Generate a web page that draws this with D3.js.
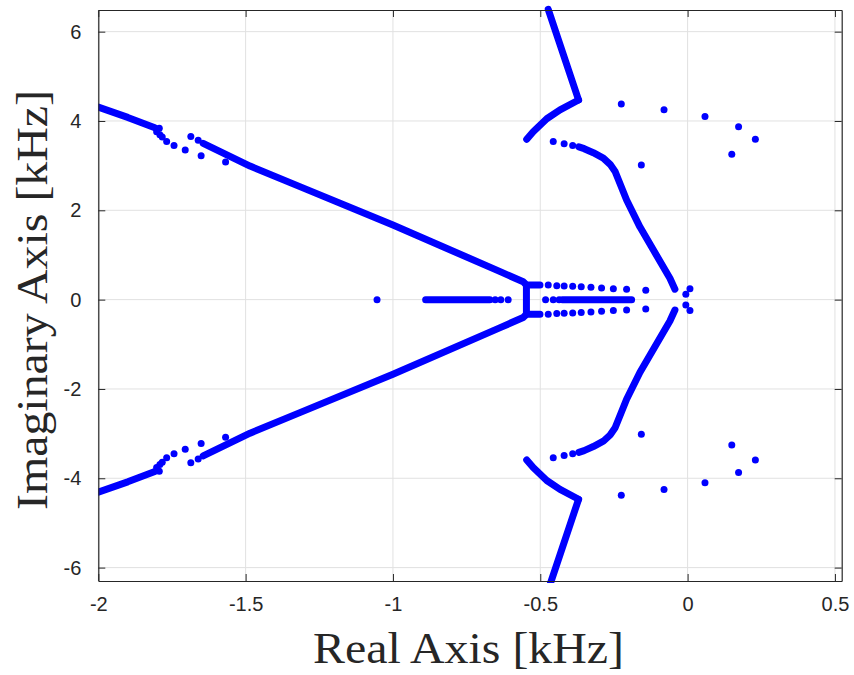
<!DOCTYPE html>
<html>
<head>
<meta charset="utf-8">
<script src="https://cdn.jsdelivr.net/npm/d3@7"></script>
<style>
  html, body { margin: 0; padding: 0; background: #ffffff; }
  svg { display: block; }
</style>
</head>
<body>
<svg id="chart" width="854" height="675"></svg>
<script>
// Axis ticks and labels
const xTicks = [-2, -1.5, -1, -0.5, 0, 0.5];
const xTickLabels = ["-2", "-1.5", "-1", "-0.5", "0", "0.5"];
const yTicks = [-6, -4, -2, 0, 2, 4, 6];
const yTickLabels = ["-6", "-4", "-2", "0", "2", "4", "6"];
const xLimits = [-2, 0.523];
const yLimits = [-6.30, 6.485];

// Closed-loop pole traces [real, imag] in kHz (upper half-plane; the lower half is the conjugate)
const branchFarLeftA = [[-2.0, 4.31], [-1.9, 4.08], [-1.808, 3.85]];
const branchFarLeftB = [[-1.644, 3.50], [-1.485, 2.99], [-1.316, 2.53], [-1.0, 1.67], [-0.636, 0.627],
                        [-0.558, 0.40], [-0.547, 0.33], [-0.501, 0.33]];
const branchTop = [[-0.473, 6.50], [-0.37, 4.47]];
const branchKink = [[-0.37, 4.47], [-0.433, 4.25], [-0.478, 4.05], [-0.524, 3.76], [-0.546, 3.59]];
const branchInner = [[-0.369, 3.42], [-0.351, 3.38], [-0.320, 3.29], [-0.286, 3.17], [-0.263, 3.03],
                     [-0.246, 2.87], [-0.207, 2.23], [-0.162, 1.63], [-0.116, 1.11], [-0.060, 0.48],
                     [-0.043, 0.233]];

// Traces lying on the real axis (no conjugate)
const realBar = [[-0.547, 0.32], [-0.547, -0.32]];
const realLeft = [[-0.889, 0], [-0.671, 0]];
const realRight = [[-0.425, 0], [-0.19, 0]];

// Isolated poles, upper half-plane
const polesUpper = [
  [-1.793, 3.84], [-1.802, 3.76], [-1.791, 3.69], [-1.783, 3.64], [-1.768, 3.54], [-1.743, 3.45],
  [-1.705, 3.35], [-1.686, 3.65], [-1.661, 3.57], [-1.651, 3.22], [-1.568, 3.08],
  [-0.456, 3.54], [-0.419, 3.49], [-0.390, 3.45],
  [-0.225, 4.38], [-0.080, 4.25], [0.059, 4.10], [0.173, 3.87], [0.230, 3.59], [0.150, 3.255],
  [-0.157, 3.015],
  [-0.473, 0.33], [-0.444, 0.313], [-0.419, 0.307], [-0.390, 0.30], [-0.361, 0.29], [-0.328, 0.277],
  [-0.292, 0.262], [-0.252, 0.246], [-0.207, 0.233], [-0.142, 0.21],
  [-0.006, 0.12], [0.008, 0.245]
];
// Isolated poles on the real axis
const polesReal = [[-1.054, 0], [-0.653, 0], [-0.634, 0], [-0.609, 0], [-0.482, 0], [-0.456, 0], [-0.436, 0]];

const conj = pts => pts.map(([re, im]) => [re, -im]);

const margin = { left: 98.3, right: 854 - 841.7, top: 10, bottom: 675 - 581 };
const W = 854, H = 675;
const svg = d3.select("#chart");

const x = d3.scaleLinear().domain(xLimits).range([margin.left, W - margin.right]);
const y = d3.scaleLinear().domain(yLimits).range([H - margin.bottom, margin.top]);

const axisColor = "#262626";
const markColor = "#0000ff";
const markR = 3.5;

// grid
const grid = svg.append("g");
grid.selectAll("line.gx").data(xTicks).join("line")
  .attr("x1", d => x(d)).attr("x2", d => x(d))
  .attr("y1", y.range()[0]).attr("y2", y.range()[1])
  .attr("stroke", "#e1e1e1").attr("stroke-width", 1);
grid.selectAll("line.gy").data(yTicks).join("line")
  .attr("y1", d => y(d)).attr("y2", d => y(d))
  .attr("x1", x.range()[0]).attr("x2", x.range()[1])
  .attr("stroke", "#e1e1e1").attr("stroke-width", 1);

// clip for traces that run past the limits
svg.append("defs").append("clipPath").attr("id", "plotClip")
  .append("rect")
  .attr("x", x.range()[0]).attr("y", y.range()[1] - 8)
  .attr("width", x.range()[1] - x.range()[0])
  .attr("height", y.range()[0] - y.range()[1] + 10);

const marks = svg.append("g").attr("clip-path", "url(#plotClip)");
const line = d3.line().x(d => x(d[0])).y(d => y(d[1]));

const upperTraces = [branchFarLeftA, branchFarLeftB, branchTop, branchKink, branchInner];
const allTraces = [...upperTraces, ...upperTraces.map(conj), realBar, realLeft, realRight];

marks.selectAll("path.trace").data(allTraces).join("path")
  .attr("class", "trace")
  .attr("d", line)
  .attr("fill", "none")
  .attr("stroke", markColor)
  .attr("stroke-width", markR * 2)
  .attr("stroke-linecap", "round")
  .attr("stroke-linejoin", "round");

const allPoles = [...polesUpper, ...conj(polesUpper), ...polesReal];
marks.selectAll("circle.pole").data(allPoles).join("circle")
  .attr("class", "pole")
  .attr("cx", d => x(d[0])).attr("cy", d => y(d[1]))
  .attr("r", markR)
  .attr("fill", markColor);

// axes box with inward ticks on all sides
const tickLen = 7;
const fmtX = (d, i) => xTickLabels[i];
const fmtY = (d, i) => yTickLabels[i];

const xAxisB = d3.axisBottom(x).tickValues(xTicks).tickFormat(fmtX).tickSizeInner(-tickLen).tickSizeOuter(0).tickPadding(16);
const xAxisT = d3.axisTop(x).tickValues(xTicks).tickFormat("").tickSizeInner(-tickLen).tickSizeOuter(0);
const yAxisL = d3.axisLeft(y).tickValues(yTicks).tickFormat(fmtY).tickSizeInner(-tickLen).tickSizeOuter(0).tickPadding(17);
const yAxisR = d3.axisRight(y).tickValues(yTicks).tickFormat("").tickSizeInner(-tickLen).tickSizeOuter(0);

function styleAxis(g) {
  g.select(".domain").attr("stroke", axisColor).attr("stroke-width", 1.2);
  g.selectAll(".tick line").attr("stroke", axisColor).attr("stroke-width", 1);
  g.selectAll(".tick text")
    .attr("fill", axisColor)
    .style("font-family", "'Liberation Sans', Arial, sans-serif")
    .style("font-size", "20px");
}

svg.append("g").attr("transform", `translate(0,${y.range()[0]})`).call(xAxisB).call(styleAxis);
svg.append("g").attr("transform", `translate(0,${y.range()[1]})`).call(xAxisT).call(styleAxis);
svg.append("g").attr("transform", `translate(${x.range()[0]},0)`).call(yAxisL).call(styleAxis);
svg.append("g").attr("transform", `translate(${x.range()[1]},0)`).call(yAxisR).call(styleAxis);

// axis titles
const titleFont = "'Liberation Serif', 'Times New Roman', serif";
svg.append("text")
  .attr("x", 468.5)
  .attr("y", 663)
  .attr("text-anchor", "middle")
  .attr("fill", axisColor)
  .attr("textLength", 311)
  .attr("lengthAdjust", "spacingAndGlyphs")
  .style("font-family", titleFont)
  .style("font-size", "45px")
  .text("Real Axis [kHz]");

svg.append("text")
  .attr("transform", `translate(47,300) rotate(-90)`)
  .attr("text-anchor", "middle")
  .attr("fill", axisColor)
  .attr("textLength", 420)
  .attr("lengthAdjust", "spacingAndGlyphs")
  .style("font-family", titleFont)
  .style("font-size", "45px")
  .text("Imaginary Axis [kHz]");
</script>
</body>
</html>
